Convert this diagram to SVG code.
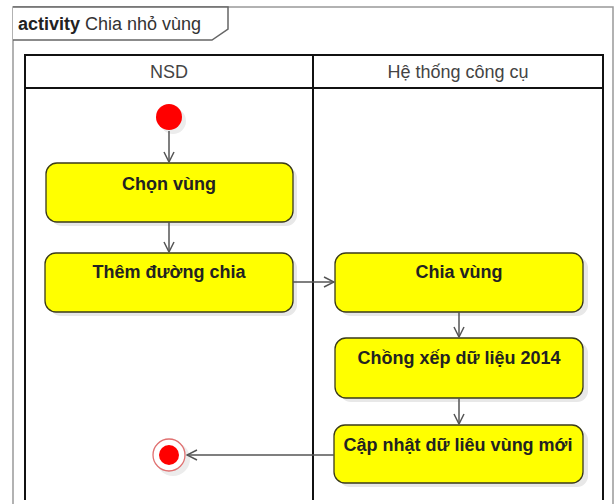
<svg xmlns="http://www.w3.org/2000/svg" width="616" height="504" viewBox="0 0 616 504">
<style>
.act{fill:#ffff00;stroke:#3a3a1a;stroke-width:1.3}
.sh{fill:#e8e8e8}
.lbl{font-family:"Liberation Sans",Arial,sans-serif;font-size:18px;font-weight:bold;fill:#222;text-anchor:middle}
.hdr{font-family:"Liberation Sans",Arial,sans-serif;font-size:18px;fill:#444;text-anchor:middle}
.edge{stroke:#555;stroke-width:1.5;fill:none;marker-end:url(#open)}
</style>
<defs>
<marker id="open" viewBox="0 0 12 12" refX="11" refY="6" markerWidth="12" markerHeight="12" markerUnits="userSpaceOnUse" orient="auto">
<path d="M1,1 L11,6 L1,11" fill="none" stroke="#555" stroke-width="1.5"/>
</marker>
</defs>
<rect width="616" height="504" fill="#fff"/>
<g id="frame">
<path d="M13,504 L13,7 L613,7 L613,504" fill="none" stroke="#999" stroke-width="1.5"/>
<path d="M13,7 L228,7 L228,29 L212,40 L13,40" fill="#fff" stroke="#666" stroke-width="1.5"/>
<text x="18" y="30" font-family="Liberation Sans,Arial,sans-serif" font-size="18" fill="#333"><tspan font-weight="bold" fill="#222">activity</tspan> Chia nhỏ vùng</text>
</g>
<g id="lanes">
<rect x="25" y="55" width="578" height="33" fill="#fff" stroke="#111" stroke-width="2"/>
<line x1="25" y1="55" x2="25" y2="500" stroke="#111" stroke-width="2"/>
<line x1="313" y1="55" x2="313" y2="500" stroke="#111" stroke-width="2"/>
<line x1="603" y1="55" x2="603" y2="500" stroke="#111" stroke-width="2"/>
<text class="hdr" x="169" y="78">NSD</text>
<text class="hdr" x="458" y="78">Hệ thống công cụ</text>
</g>
<g id="start">
<circle cx="173" cy="121" r="13" fill="#ececec"/>
<circle cx="169" cy="117" r="13" fill="#ff0000"/>
</g>
<g id="chon-vung">
<rect class="sh" x="51" y="167" width="246" height="59" rx="11"/>
<rect class="act" x="46" y="163" width="247" height="59" rx="11"/>
<text class="lbl" x="169" y="190">Chọn vùng</text>
</g>
<g id="them-duong-chia">
<rect class="sh" x="50" y="257" width="247" height="59" rx="11"/>
<rect class="act" x="45" y="253" width="248" height="59" rx="11"/>
<text class="lbl" x="169" y="278">Thêm đường chia</text>
</g>
<g id="chia-vung">
<rect class="sh" x="340" y="257" width="248" height="59" rx="11"/>
<rect class="act" x="335" y="253" width="248" height="59" rx="11"/>
<text class="lbl" x="459" y="278">Chia vùng</text>
</g>
<g id="chong-xep">
<rect class="sh" x="340" y="342" width="248" height="60" rx="11"/>
<rect class="act" x="335" y="338" width="248" height="60" rx="11"/>
<text class="lbl" x="459" y="364">Chồng xếp dữ liệu 2014</text>
</g>
<g id="cap-nhat">
<rect class="sh" x="339" y="429" width="249" height="58" rx="11"/>
<rect class="act" x="334" y="425" width="249" height="58" rx="11"/>
<text class="lbl" x="458" y="451">Cập nhật dữ liêu vùng mới</text>
</g>
<g id="end">
<circle cx="173" cy="459" r="17" fill="#ececec"/>
<circle cx="169" cy="455" r="16" fill="#fff" stroke="#e07070" stroke-width="1.3"/>
<circle cx="169" cy="455" r="10" fill="#ff0000"/>
</g>
<g id="connectors">
<line class="edge" x1="169" y1="131" x2="169" y2="162"/>
<line class="edge" x1="169" y1="222" x2="169" y2="252"/>
<line class="edge" x1="293" y1="282" x2="334" y2="282"/>
<line class="edge" x1="459" y1="312" x2="459" y2="337"/>
<line class="edge" x1="459" y1="398" x2="459" y2="424"/>
<line class="edge" x1="334" y1="455" x2="187" y2="455"/>
</g>
</svg>
